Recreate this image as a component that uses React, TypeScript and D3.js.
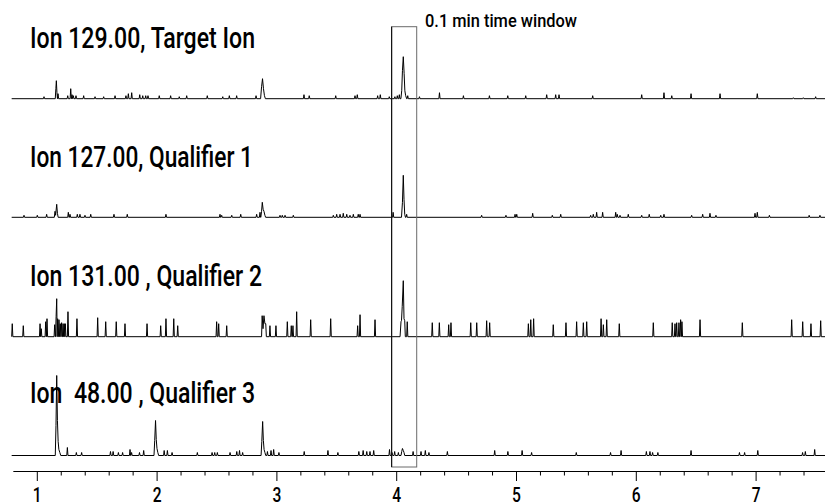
import React from 'react';
import * as d3 from 'd3';

// ---------- data (retention time in min, abundance in arbitrary units) ----------
const TITLES = [
  'Ion 129.00, Target Ion',
  'Ion 127.00, Qualifier 1',
  'Ion 131.00 , Qualifier 2',
  'Ion  48.00 , Qualifier 3',
];
const WINDOW_LABEL = '0.1 min time window';
const WINDOW_RANGE = [3.958, 4.167];
const MAJOR_TICKS = [1, 2, 3, 4, 5, 6, 7];
const MINOR_TICKS = [1.2, 1.4, 1.6, 1.8, 2.2, 2.4, 2.6, 2.8, 3.2, 3.4, 3.6, 3.8, 4.2, 4.4, 4.6, 4.8, 5.2, 5.4, 5.6, 5.8, 6.2, 6.4, 6.6, 6.8, 7.2, 7.4];

const ION129_SPIKES: [number, number][] = [
  [1.056, 2], [1.173, 5], [1.254, 3], [1.279, 10], [1.29, 4], [1.301, 3], [1.323, 3], [1.387, 3], [1.482, 2], [1.554, 2],
  [1.649, 3], [1.74, 3], [1.76, 5], [1.788, 6], [1.855, 4], [1.88, 3], [1.905, 3], [1.924, 3], [2.018, 3], [2.113, 3],
  [2.185, 2], [2.247, 3], [2.419, 3], [2.548, 2], [2.603, 3], [2.664, 3], [2.826, 3], [3.226, 4], [3.27, 3], [3.491, 3],
  [3.652, 3], [3.671, 4], [3.841, 3], [3.863, 4], [3.938, 2], [3.985, 2], [4.005, 3], [4.022, 4], [4.092, 3], [4.19, 2],
  [4.357, 6], [4.557, 3], [4.774, 3], [4.927, 3], [5.077, 3], [5.252, 4], [5.327, 4], [5.355, 4], [5.636, 3], [6.045, 4],
  [6.231, 6], [6.296, 3], [6.457, 5], [6.699, 5], [7.01, 5], [7.311, 1], [7.394, 1], [7.497, 2],
];
const ION129_PEAKS: [number, number][][] = [
  [[1.15, 0], [1.155, 10], [1.159, 18], [1.164, 6], [1.168, 0]],
  [[2.864, 0], [2.872, 12], [2.88, 20], [2.888, 10], [2.896, 3], [2.904, 0]],
  [[4.035, 0], [4.042, 8], [4.048, 28], [4.055, 42], [4.062, 25], [4.068, 8], [4.075, 3], [4.083, 0]],
];

const ION127_SPIKES: [number, number][] = [
  [0.889, 2], [1.0, 2], [1.078, 3], [1.259, 5], [1.273, 3], [1.334, 3], [1.356, 3], [1.398, 2], [1.446, 3], [1.64, 3],
  [1.751, 3], [2.074, 3], [2.525, 3], [2.539, 2], [2.623, 2], [2.698, 3], [2.831, 3], [2.859, 5], [3.026, 2], [3.045, 2],
  [3.068, 2], [3.137, 2], [3.471, 2], [3.499, 3], [3.527, 3], [3.554, 4], [3.583, 3], [3.61, 2], [3.638, 3], [3.679, 3],
  [3.694, 3], [3.97, 5], [4.083, 3], [4.709, 2], [4.912, 2], [4.988, 3], [5.002, 3], [5.135, 4], [5.299, 2], [5.369, 3],
  [5.619, 2], [5.641, 3], [5.669, 5], [5.719, 5], [5.828, 5], [5.841, 3], [5.864, 2], [5.933, 3], [6.045, 2], [6.108, 3],
  [6.204, 2], [6.231, 3], [6.462, 2], [6.554, 3], [6.615, 4], [6.665, 2], [6.991, 4], [7.01, 5], [7.111, 2], [7.443, 2],
  [7.533, 2],
];
const ION127_PEAKS: [number, number][][] = [
  [[1.142, 0], [1.148, 6], [1.153, 2], [1.162, 13], [1.168, 4], [1.174, 0]],
  [[2.866, 0], [2.872, 6], [2.878, 15], [2.885, 8], [2.892, 6], [2.9, 2], [2.906, 0]],
  [[4.04, 0], [4.048, 15], [4.055, 42], [4.061, 18], [4.067, 3], [4.073, 0]],
];

const ION131_SPIKES: [number, number][] = [
  [0.791, 13], [0.883, 11], [1.023, 13], [1.033, 8], [1.07, 15], [1.081, 18], [1.145, 12], [1.17, 18], [1.181, 17],
  [1.192, 13], [1.203, 14], [1.215, 13], [1.225, 13], [1.234, 13], [1.256, 25], [1.331, 18], [1.504, 19], [1.571, 15],
  [1.659, 15], [1.732, 13], [1.916, 13], [2.03, 11], [2.074, 18], [2.139, 18], [2.172, 11], [2.497, 15], [2.514, 13],
  [2.581, 11], [2.942, 11], [2.992, 11], [3.087, 15], [3.12, 11], [3.134, 11], [3.165, 25], [3.282, 17], [3.449, 18],
  [3.674, 11], [3.694, 22], [3.819, 17], [4.088, 15], [4.297, 14], [4.356, 14], [4.434, 12], [4.453, 14], [4.618, 14],
  [4.668, 14], [4.751, 16], [4.776, 14], [5.099, 13], [5.119, 17], [5.143, 18], [5.307, 12], [5.413, 14], [5.502, 15],
  [5.558, 14], [5.586, 15], [5.706, 18], [5.725, 12], [5.753, 17], [5.858, 13], [6.142, 14], [6.3, 14], [6.323, 13],
  [6.337, 14], [6.356, 14], [6.37, 17], [6.381, 15], [6.532, 17], [6.885, 14], [7.297, 17], [7.389, 15], [7.458, 13],
  [7.539, 16],
];
const ION131_PEAKS: [number, number][][] = [
  [[1.152, 0], [1.157, 20], [1.162, 38], [1.166, 0]],
  [[2.872, 0], [2.877, 21], [2.884, 8], [2.892, 21], [2.9, 13], [2.907, 13], [2.912, 0]],
  [[4.028, 0], [4.036, 15], [4.04, 16], [4.046, 30], [4.055, 56], [4.061, 18], [4.067, 16], [4.072, 0]],
];

const ION48_SPIKES: [number, number][] = [
  [1.251, 8], [1.326, 3], [1.37, 3], [1.611, 4], [1.633, 4], [1.677, 3], [1.712, 3], [1.774, 6], [1.787, 3], [1.853, 3],
  [1.888, 5], [2.059, 5], [2.086, 5], [2.125, 3], [2.336, 3], [2.459, 3], [2.481, 3], [2.503, 3], [2.609, 3], [2.665, 4],
  [2.688, 5], [2.714, 3], [2.921, 4], [2.951, 5], [2.973, 6], [3.017, 3], [3.228, 4], [3.426, 5], [3.509, 3], [3.684, 4],
  [3.72, 5], [3.75, 4], [3.777, 4], [3.808, 5], [3.94, 6], [3.961, 3], [3.983, 4], [4.014, 3], [4.137, 4], [4.203, 4],
  [4.239, 5], [4.269, 3], [4.423, 4], [4.818, 5], [4.928, 4], [5.047, 5], [5.126, 3], [5.499, 3], [5.785, 3], [5.873, 5],
  [6.084, 4], [6.114, 4], [6.136, 3], [6.18, 3], [6.457, 5], [6.861, 3], [6.904, 3], [7.014, 5], [7.388, 3], [7.411, 4],
  [7.489, 6],
];
const ION48_PEAKS: [number, number][][] = [
  [[1.15, 0], [1.156, 30], [1.162, 80], [1.168, 35], [1.174, 14], [1.18, 6], [1.188, 3], [1.196, 0]],
  [[1.974, 0], [1.98, 15], [1.987, 35], [1.993, 16], [1.999, 7], [2.006, 3], [2.013, 0]],
  [[2.868, 0], [2.874, 14], [2.881, 34], [2.887, 15], [2.893, 6], [2.9, 3], [2.907, 0]],
  [[4.036, 0], [4.042, 4], [4.048, 7], [4.055, 5], [4.061, 3], [4.067, 0]],
];

const TRACES = [
  { title: TITLES[0], spikes: ION129_SPIKES, peaks: ION129_PEAKS },
  { title: TITLES[1], spikes: ION127_SPIKES, peaks: ION127_PEAKS },
  { title: TITLES[2], spikes: ION131_SPIKES, peaks: ION131_PEAKS },
  { title: TITLES[3], spikes: ION48_SPIKES, peaks: ION48_PEAKS },
];

// ---------- layout ----------
const W = 825;
const H = 503;
const T_START = 0.786;
const T_END = 7.6;
const BASELINES = [98.7, 217.3, 336.7, 455.5];
const TITLE_Y = [48, 166.7, 285.7, 403.3];
const TITLE_W = [225, 223, 232, 225];
const AXIS_Y = 471.5;
const FONT = "'Liberation Sans Narrow', 'Arial Narrow', Roboto, 'DejaVu Sans', sans-serif";
const SPIKE_HALF = 0.005;

function buildPoints(spikes: [number, number][], peaks: [number, number][][]) {
  const pts: [number, number][] = [[T_START, 0]];
  const groups: [number, number][][] = [];
  spikes.forEach(([t, h]) => groups.push([[t - SPIKE_HALF, 0], [t, h], [t + SPIKE_HALF, 0]]));
  peaks.forEach((p) => groups.push(p));
  groups.sort((a, b) => a[0][0] - b[0][0]);
  groups.forEach((g) => g.forEach((p) => pts.push(p)));
  pts.push([T_END, 0]);
  return pts;
}

export default function App() {
  const x = d3.scaleLinear().domain([1, 7]).range([37.3, 756.1]);

  return (
    <div style={{ position: 'absolute', left: 0, top: 0 }}>
      <svg width={W} height={H} style={{ display: 'block', background: '#fff' }}>
        {TRACES.map((tr, i) => {
          const y = d3.scaleLinear().domain([0, 100]).range([BASELINES[i], BASELINES[i] - 100]);
          const line = d3
            .line<[number, number]>()
            .x((d) => x(d[0]))
            .y((d) => y(d[1]));
          return (
            <g key={i}>
              <text
                x={30}
                y={TITLE_Y[i]}
                fontFamily={FONT}
                fontSize={29}
                fontWeight={500}
                fill="#000"
                textLength={TITLE_W[i]}
                lengthAdjust="spacingAndGlyphs"
                style={{ whiteSpace: 'pre' }}
              >
                {tr.title}
              </text>
              <path d={line(buildPoints(tr.spikes, tr.peaks)) || ''} fill="none" stroke="#000" strokeWidth={1} />
            </g>
          );
        })}

        {/* time window box */}
        <rect
          x={x(WINDOW_RANGE[0])}
          y={26.7}
          width={x(WINDOW_RANGE[1]) - x(WINDOW_RANGE[0])}
          height={467 - 26.7}
          fill="none"
          stroke="#6a6a6a"
          strokeWidth={1}
        />
        <line x1={x(WINDOW_RANGE[0])} x2={x(WINDOW_RANGE[0])} y1={26.7} y2={467} stroke="#000" strokeWidth={1} />
        <text
          x={425}
          y={26.5}
          fontFamily={FONT}
          fontSize={19}
          fontWeight={500}
          fill="#000"
          textLength={152}
          lengthAdjust="spacingAndGlyphs"
        >
          {WINDOW_LABEL}
        </text>

        {/* x axis */}
        <line x1={x(0.8)} x2={W} y1={AXIS_Y} y2={AXIS_Y} stroke="#000" strokeWidth={1} />
        {MINOR_TICKS.map((t) => (
          <line key={'m' + t} x1={x(t)} x2={x(t)} y1={AXIS_Y} y2={AXIS_Y + 4} stroke="#000" strokeWidth={1} />
        ))}
        {MAJOR_TICKS.map((t) => (
          <g key={'M' + t}>
            <line x1={x(t)} x2={x(t)} y1={AXIS_Y} y2={AXIS_Y + 9.5} stroke="#000" strokeWidth={1} />
            <text
              x={x(t)}
              y={502}
              textAnchor="middle"
              fontFamily={FONT}
              fontSize={19.5}
              fontWeight={500}
              fill="#000"
              transform={`translate(${x(t)},0) scale(0.8,1) translate(${-x(t)},0)`}
            >
              {t}
            </text>
          </g>
        ))}
      </svg>
    </div>
  );
}
